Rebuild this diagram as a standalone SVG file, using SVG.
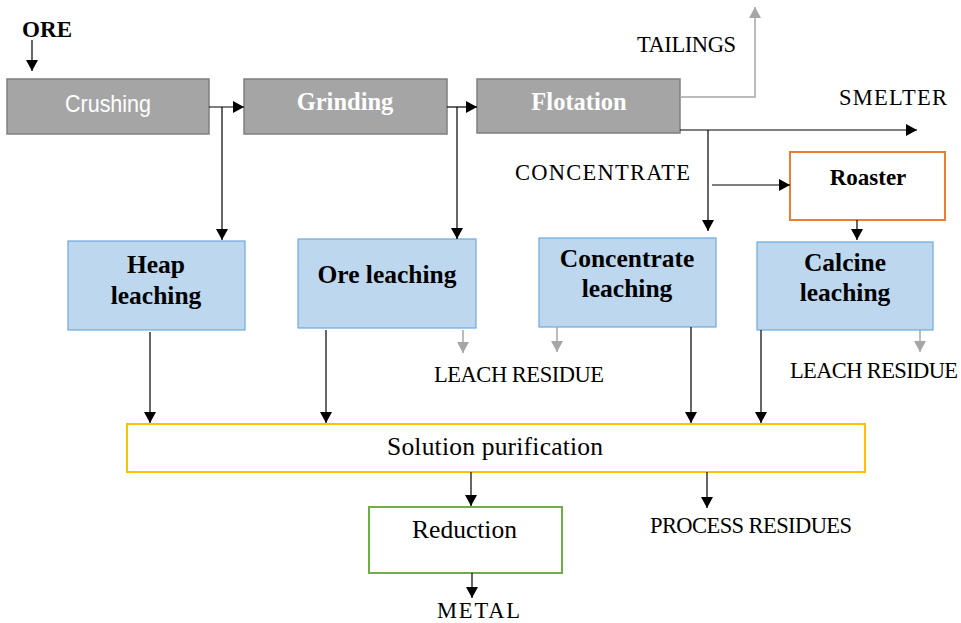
<svg xmlns="http://www.w3.org/2000/svg" width="961" height="623" viewBox="0 0 961 623">
<style>
.serif{font-family:"Liberation Serif","Times New Roman",serif;fill:#000}
.b{font-weight:bold}
.gray{fill:#a5a5a5;stroke:#7f7f7f;stroke-width:1.5}
.blue{fill:#bdd7ee;stroke:#6fa8dc;stroke-width:1.2}
.lbl{font-size:22.5px}
.node{font-size:25.5px;font-weight:bold;text-anchor:middle}
.c{stroke:#000;stroke-width:1.2;fill:none}
.g{stroke:#a6a6a6;stroke-width:1.5;fill:none}
</style>
<defs>
<marker id="ab" markerUnits="userSpaceOnUse" markerWidth="12" markerHeight="12" refX="11" refY="6" orient="auto">
<path d="M0,0 L11,6 L0,12 z" fill="#000"/>
</marker>
<marker id="ag" markerUnits="userSpaceOnUse" markerWidth="12" markerHeight="12" refX="11" refY="6" orient="auto">
<path d="M0,0 L11,6 L0,12 z" fill="#a6a6a6"/>
</marker>
</defs>
<rect width="961" height="623" fill="#fff"/>
<text class="serif b" x="22" y="37" font-size="23" textLength="50">ORE</text>

<g id="crushing">
<rect class="gray" x="7" y="79" width="202" height="55"/>
<text x="108" y="112" font-family="Liberation Sans,Arial,sans-serif" font-size="24" fill="#fff" text-anchor="middle" textLength="86" lengthAdjust="spacingAndGlyphs">Crushing</text>
</g>
<g id="grinding">
<rect class="gray" x="244" y="79" width="203" height="55"/>
<text class="serif b" x="345" y="110" font-size="24.5" style="fill:#fff" text-anchor="middle">Grinding</text>
</g>
<g id="flotation">
<rect class="gray" x="477" y="79" width="203" height="54"/>
<text class="serif b" x="579" y="110" font-size="24.5" style="fill:#fff" text-anchor="middle">Flotation</text>
</g>
<g id="roaster">
<rect x="790" y="152" width="155" height="68" fill="#fff" stroke="#ed7d31" stroke-width="2"/>
<text class="serif b" x="868" y="185" font-size="23" text-anchor="middle">Roaster</text>
</g>
<g id="heap">
<rect class="blue" x="68" y="241" width="177" height="89"/>
<text class="serif node" x="156" y="273">Heap</text>
<text class="serif node" x="156" y="304">leaching</text>
</g>
<g id="ore">
<rect class="blue" x="298" y="239" width="178" height="89"/>
<text class="serif node" x="387" y="283">Ore leaching</text>
</g>
<g id="concentrate">
<rect class="blue" x="539" y="238" width="177" height="89"/>
<text class="serif node" x="627" y="267">Concentrate</text>
<text class="serif node" x="627" y="297">leaching</text>
</g>
<g id="calcine">
<rect class="blue" x="757" y="242" width="176" height="88"/>
<text class="serif node" x="845" y="271">Calcine</text>
<text class="serif node" x="845" y="301">leaching</text>
</g>
<g id="solution">
<rect x="127" y="424" width="738" height="48" fill="#fff" stroke="#ffc000" stroke-width="2"/>
<text class="serif" x="387" y="455" font-size="25.5" textLength="216">Solution purification</text>
</g>
<g id="reduction">
<rect x="369" y="507" width="193" height="66" fill="#fff" stroke="#70ad47" stroke-width="2"/>
<text class="serif" x="412" y="538" font-size="25.5" textLength="105">Reduction</text>
</g>

<g id="labels">
<text class="serif lbl" x="637" y="52" textLength="99">TAILINGS</text>
<text class="serif lbl" x="839" y="105" textLength="108">SMELTER</text>
<text class="serif lbl" x="515" y="180" textLength="175">CONCENTRATE</text>
<text class="serif lbl" x="434" y="382" textLength="170">LEACH RESIDUE</text>
<text class="serif lbl" x="790" y="378" textLength="168">LEACH RESIDUE</text>
<text class="serif lbl" x="650" y="533" textLength="202">PROCESS RESIDUES</text>
<text class="serif lbl" x="437" y="618" textLength="83">METAL</text>
</g>

<g id="connectors">
<path class="c" d="M32,40 V71" marker-end="url(#ab)"/>
<path class="c" d="M209,107 H244" marker-end="url(#ab)"/>
<path class="c" d="M222,107 V240" marker-end="url(#ab)"/>
<path class="c" d="M447,107 H477" marker-end="url(#ab)"/>
<path class="c" d="M457,107 V239" marker-end="url(#ab)"/>
<path class="g" d="M680,97 H755 V7" stroke-width="2.5" marker-end="url(#ag)"/>
<path class="c" d="M680,130 H917" marker-end="url(#ab)"/>
<path class="c" d="M708,130 V231" stroke="#404040" marker-end="url(#ab)"/>
<path class="c" d="M712,185 H790" stroke="#404040" marker-end="url(#ab)"/>
<path class="c" d="M857,220 V240" marker-end="url(#ab)"/>
<path class="g" d="M463,330 V353" marker-end="url(#ag)"/>
<path class="g" d="M557,327 V352" marker-end="url(#ag)"/>
<path class="g" d="M920,330 V352" marker-end="url(#ag)"/>
<path class="c" d="M150,332 V423" marker-end="url(#ab)"/>
<path class="c" d="M326,330 V423" stroke="#595959" marker-end="url(#ab)"/>
<path class="c" d="M691,327 V423" marker-end="url(#ab)"/>
<path class="c" d="M761,330 V423" marker-end="url(#ab)"/>
<path class="c" d="M471,472 V506" marker-end="url(#ab)"/>
<path class="c" d="M707,472 V508" marker-end="url(#ab)"/>
<path class="c" d="M472,573 V598" marker-end="url(#ab)"/>
</g>
</svg>
